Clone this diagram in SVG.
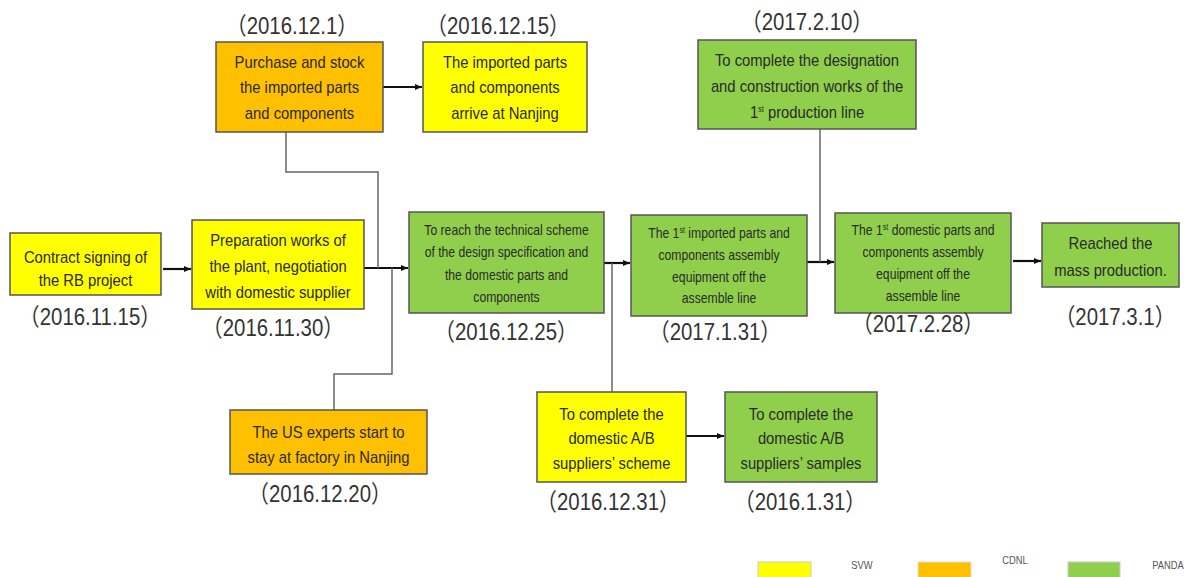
<svg xmlns="http://www.w3.org/2000/svg" width="1201" height="577" viewBox="0 0 1201 577">
<style>
.box{stroke:#555;stroke-width:1.5}
.y{fill:#FFFF00}.o{fill:#FFC000}.g{fill:#8FCF4C}
.t{font-family:"Liberation Sans",Arial,sans-serif;font-size:17px;fill:#2a2a2a;text-anchor:middle}
.s{font-size:14.5px}
.d{font-family:"Liberation Sans","Noto Sans CJK SC",sans-serif;font-size:24px;fill:#333;text-anchor:middle}
.p{font-family:"Noto Sans CJK SC",sans-serif}
.lg{font-family:"Liberation Sans",Arial,sans-serif;font-size:11px;fill:#555;text-anchor:middle}
.arr{stroke:#111;stroke-width:2.2;fill:none;marker-end:url(#ah)}
.feed{stroke:#666;stroke-width:1.5;fill:none}
.sup{font-size:8.5px}
</style>
<defs>
<marker id="ah" markerWidth="8" markerHeight="8" refX="7" refY="4" orient="auto" markerUnits="userSpaceOnUse">
<path d="M0,1 L7,4 L0,7 Z" fill="#111"/>
</marker>
</defs>
<rect width="1201" height="577" fill="#fff"/>

<g id="connectors">
<line class="arr" x1="163" y1="269" x2="191" y2="269"/>
<line class="arr" x1="364" y1="268" x2="408" y2="268"/>
<line class="arr" x1="383" y1="87" x2="422" y2="87"/>
<polyline class="feed" points="286,132 286,172 378,172 378,268"/>
<polyline class="feed" points="334,410 334,374 392,374 392,268"/>
<line class="arr" x1="604" y1="263" x2="630" y2="263"/>
<line class="feed" x1="612" y1="263" x2="612" y2="392"/>
<line class="arr" x1="686" y1="436" x2="724" y2="436"/>
<line class="arr" x1="807" y1="262" x2="834" y2="262"/>
<line class="feed" x1="820" y1="129" x2="820" y2="262"/>
<line class="arr" x1="1013" y1="261" x2="1041" y2="261"/>
</g>

<g id="contract">
<rect class="box y" x="10" y="233" width="151" height="62"/>
<text class="t" transform="translate(85.5,263) scale(0.87,1)"><tspan x="0">Contract signing of</tspan><tspan x="0" dy="23">the RB project</tspan></text>
<text class="d" transform="translate(90,325) scale(0.85,1)"><tspan class="p">（</tspan>2016.11.15<tspan class="p">）</tspan></text>
</g>

<g id="preparation">
<rect class="box y" x="192" y="220" width="172" height="89"/>
<text class="t" transform="translate(278,246) scale(0.87,1)"><tspan x="0">Preparation works of</tspan><tspan x="0" dy="26">the plant, negotiation</tspan><tspan x="0" dy="26">with domestic supplier</tspan></text>
<text class="d" transform="translate(273,336) scale(0.85,1)"><tspan class="p">（</tspan>2016.11.30<tspan class="p">）</tspan></text>
</g>

<g id="purchase">
<rect class="box o" x="216" y="42" width="167" height="90"/>
<text class="t" transform="translate(299.5,68) scale(0.87,1)"><tspan x="0">Purchase and stock</tspan><tspan x="0" dy="25.5">the imported parts</tspan><tspan x="0" dy="25.5">and components</tspan></text>
<text class="d" transform="translate(292,34) scale(0.85,1)"><tspan class="p">（</tspan>2016.12.1<tspan class="p">）</tspan></text>
</g>

<g id="imported">
<rect class="box y" x="423" y="42" width="164" height="90"/>
<text class="t" transform="translate(505,68) scale(0.87,1)"><tspan x="0">The imported parts</tspan><tspan x="0" dy="25.5">and components</tspan><tspan x="0" dy="25.5">arrive at  Nanjing</tspan></text>
<text class="d" transform="translate(498,34) scale(0.85,1)"><tspan class="p">（</tspan>2016.12.15<tspan class="p">）</tspan></text>
</g>

<g id="us-experts">
<rect class="box o" x="230" y="410" width="197" height="64"/>
<text class="t" transform="translate(328.5,437.5) scale(0.87,1)"><tspan x="0">The US experts start to</tspan><tspan x="0" dy="26">stay at factory in Nanjing</tspan></text>
<text class="d" transform="translate(320,502) scale(0.85,1)"><tspan class="p">（</tspan>2016.12.20<tspan class="p">）</tspan></text>
</g>

<g id="reach">
<rect class="box g" x="409" y="212" width="195" height="101"/>
<text class="t s" transform="translate(506.5,235) scale(0.84,1)"><tspan x="0">To reach the technical scheme</tspan><tspan x="0" dy="22.5">of the design specification  and</tspan><tspan x="0" dy="22.5">the domestic  parts and</tspan><tspan x="0" dy="22.5">components</tspan></text>
<text class="d" transform="translate(506,340) scale(0.85,1)"><tspan class="p">（</tspan>2016.12.25<tspan class="p">）</tspan></text>
</g>

<g id="ab-scheme">
<rect class="box y" x="537" y="392" width="149" height="90"/>
<text class="t" transform="translate(611.5,420) scale(0.87,1)"><tspan x="0">To complete  the</tspan><tspan x="0" dy="24.5">domestic A/B</tspan><tspan x="0" dy="24.5">suppliers’ scheme</tspan></text>
<text class="d" transform="translate(608,510) scale(0.85,1)"><tspan class="p">（</tspan>2016.12.31<tspan class="p">）</tspan></text>
</g>

<g id="ab-samples">
<rect class="box g" x="725" y="392" width="152" height="90"/>
<text class="t" transform="translate(801,420) scale(0.87,1)"><tspan x="0">To complete the</tspan><tspan x="0" dy="24.5">domestic A/B</tspan><tspan x="0" dy="24.5">suppliers’  samples</tspan></text>
<text class="d" transform="translate(800,510) scale(0.85,1)"><tspan class="p">（</tspan>2016.1.31<tspan class="p">）</tspan></text>
</g>

<g id="first-imported">
<rect class="box g" x="631" y="215" width="176" height="101"/>
<text class="t s" transform="translate(719,238) scale(0.84,1)"><tspan x="0">The 1<tspan class="sup" dy="-5">st</tspan><tspan dy="5"> imported  parts and</tspan></tspan><tspan x="0" dy="22">components  assembly</tspan><tspan x="0" dy="22">equipment   off the</tspan><tspan x="0" dy="21">assemble  line</tspan></text>
<text class="d" transform="translate(715,340) scale(0.85,1)"><tspan class="p">（</tspan>2017.1.31<tspan class="p">）</tspan></text>
</g>

<g id="designation">
<rect class="box g" x="698" y="40" width="218" height="89"/>
<text class="t" transform="translate(807,66) scale(0.87,1)"><tspan x="0">To complete the designation</tspan><tspan x="0" dy="26">and construction works of the</tspan><tspan x="0" dy="26">1<tspan class="sup" dy="-6">st</tspan><tspan dy="6"> production line</tspan></tspan></text>
<text class="d" transform="translate(807,30) scale(0.85,1)"><tspan class="p">（</tspan>2017.2.10<tspan class="p">）</tspan></text>
</g>

<g id="first-domestic">
<rect class="box g" x="835" y="213" width="176" height="100"/>
<text class="t s" transform="translate(923,235) scale(0.84,1)"><tspan x="0">The 1<tspan class="sup" dy="-5">st</tspan><tspan dy="5"> domestic parts and</tspan></tspan><tspan x="0" dy="22.5">components  assembly</tspan><tspan x="0" dy="22">equipment   off the</tspan><tspan x="0" dy="22">assemble  line</tspan></text>
<text class="d" transform="translate(918,332) scale(0.85,1)"><tspan class="p">（</tspan>2017.2.28<tspan class="p">）</tspan></text>
</g>

<g id="reached">
<rect class="box g" x="1042" y="223" width="137" height="64"/>
<text class="t" transform="translate(1110.5,249) scale(0.87,1)"><tspan x="0">Reached the</tspan><tspan x="0" dy="27">mass production.</tspan></text>
<text class="d" transform="translate(1115,325) scale(0.85,1)"><tspan class="p">（</tspan>2017.3.1<tspan class="p">）</tspan></text>
</g>

<g id="legend">
<rect x="758" y="562" width="53" height="20" fill="#FFFF00" stroke="#ccc" stroke-width="1"/>
<text class="lg" transform="translate(862,569) scale(0.85,1)">SVW</text>
<rect x="918" y="562" width="53" height="20" fill="#FFC000" stroke="#ddd" stroke-width="1"/>
<text class="lg" transform="translate(1015,564) scale(0.85,1)">CDNL</text>
<rect x="1068" y="562" width="52" height="20" fill="#8FCF4C" stroke="#ccc" stroke-width="1"/>
<text class="lg" transform="translate(1168,569) scale(0.85,1)">PANDA</text>
</g>
</svg>
